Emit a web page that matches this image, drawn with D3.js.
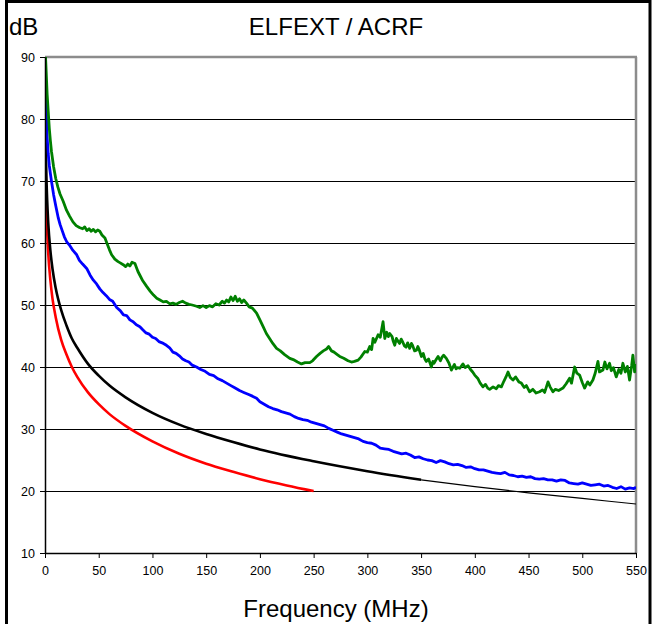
<!DOCTYPE html>
<html><head><meta charset="utf-8">
<script src="https://cdn.jsdelivr.net/npm/d3@7"></script>
<style>body{margin:0;background:#fff}svg{display:block}text{font-family:"Liberation Sans",Arial,sans-serif}</style>
</head><body><svg id="c" width="657" height="624"></svg>
<script>
const title = "ELFEXT / ACRF";
const yUnit = "dB";
const xTitle = "Frequency (MHz)";
const yTicks = [10,20,30,40,50,60,70,80,90];
const xTicks = [0,50,100,150,200,250,300,350,400,450,500,550];

// [MHz, dB]
const redSeries = [[0.5,74],[1,68],[2,62],[3,58.4],[5,54],[7,51],[10,48],[15,44.4],[20,42],[25,40],[30,38.4],[40,35.9],[50,34],[60,32.4],[75,30.5],[100,28],[125,26],[150,24.4],[175,23.1],[200,21.9],[225,20.9],[250,20]];

const blackSeries = [[0.4,80],[1,73],[2,67],[3,63.3],[5,58.8],[7,55.8],[10,52.7],[15,49.2],[20,46.7],[25,44.6],[30,43.1],[40,40.5],[50,38.6],[60,37.0],[75,35.1],[100,32.6],[125,30.7],[150,29.2],[175,27.9],[200,26.7],[250,24.8],[300,23.2],[350,21.8]];

const blackThinSeries = [[350,21.8],[400,20.7],[450,19.7],[500,18.8],[550,17.9]];

const blueSeries = [[0.3,86],[1,82],[2,77],[3,74.4],[4,72.5],[5,71.2],[6,70.0],[8,67.8],[10,66.0],[12.4,64.0],[14,63.0],[16,62.0],[18,61.0],[20.2,60.2],[23,59.6],[26,58.8],[29.5,58.1],[32,57.2],[35,56.6],[38.8,55.9],[42,54.8],[45,54.0],[48,53.4],[51,52.6],[54,52.0],[57,51.5],[60,50.9],[63,50.6],[66.7,49.6],[70,49.1],[73,48.4],[76,48.3],[79,47.6],[82,47.3],[85,46.8],[88.3,46.5],[91,46.0],[94,45.5],[97,45.3],[100,44.8],[103,44.6],[106,44.1],[109,43.9],[113,43.5],[116,43.1],[119,42.4],[122,42.2],[125,41.8],[128,41.3],[131,41.0],[134,40.8],[137,40.3],[141,40.0],[145,39.6],[149,39.3],[153,38.8],[157,38.6],[161,38.1],[165,37.8],[169,37.4],[173,37.0],[177,36.6],[181,36.2],[185,35.9],[189,35.6],[193,35.3],[196.9,34.95],[200,34.4],[204,34.0],[208,33.6],[212,33.3],[216,33.1],[220,32.8],[224,32.6],[228,32.4],[232,32.0],[236,31.7],[240,31.5],[244,31.4],[248,31.1],[252,30.9],[256,30.7],[260,30.5],[264,30.1],[268,29.8],[272,29.5],[276,29.2],[280,29.0],[284,28.8],[288,28.6],[292,28.4],[296,28.0],[300,27.8],[304,27.7],[308,27.4],[312,26.9],[316,26.8],[320,26.7],[324,26.4],[328,26.2],[332,26.0],[336,26.1],[340,25.8],[344,25.4],[348,25.5],[352,25.2],[356,25.0],[360,24.9],[364,24.6],[368,24.9],[372,24.7],[376,24.4],[380,24.2],[384,24.3],[388,24.1],[392,23.8],[396,23.9],[400,23.6],[404,23.4],[408,23.4],[412,23.2],[416,23.0],[420,22.9],[424,22.8],[428,23.0],[432,22.6],[436,22.5],[440,22.3],[444,22.4],[448,22.2],[452,22.3],[456,22.0],[460,21.9],[464,22.0],[468,21.8],[472,21.8],[476,21.6],[480,21.8],[484,21.7],[488,21.3],[492,21.2],[496,21.1],[500,21.3],[504,21.1],[508,20.9],[512,21.0],[516,21.1],[520,20.8],[524,20.9],[528,20.6],[532,20.4],[536,20.7],[540,20.3],[544,20.5],[548,20.4],[550,20.6]];

const greenSeries = [[0.5,90],[1,88],[2,84],[3,81.2],[4,78.5],[5,76.5],[6,74.8],[8,72.3],[10,70.4],[12,69.0],[14,67.9],[17,66.7],[20,65.3],[23,64.3],[26,63.4],[29,62.8],[32,62.5],[35,62.3],[37,62.6],[39,62.0],[41,62.3],[43,61.9],[45,62.2],[47,61.8],[49,62.1],[51,61.9],[53,61.3],[55.8,60.8],[58,59.8],[60,58.9],[62,58.1],[65,57.4],[68,57.0],[70,56.8],[72.8,56.5],[75,56.2],[77,56.6],[79,56.3],[81,56.9],[83.7,56.7],[85,56.1],[86.5,55.4],[88.3,54.8],[91,53.9],[94.6,53.0],[98,52.2],[101,51.6],[104,51.1],[107,50.8],[110,50.5],[113,50.6],[116,50.2],[119,50.3],[122,50.1],[125,50.4],[128,50.6],[131,50.3],[134,50.1],[137,50.0],[141,49.8],[144,49.6],[147,49.9],[150,49.6],[153,49.9],[156,49.7],[159,50.2],[162,50.0],[165,50.6],[167,50.3],[169,50.8],[171,50.5],[173,51.3],[175,50.7],[177,51.4],[179,50.6],[181,51.0],[183,50.4],[185,50.8],[187.5,50.3],[190,49.7],[193,49.5],[196.9,48.7],[200,47.6],[203,46.5],[206,45.4],[209,44.6],[212,43.8],[215.5,43.0],[219,42.6],[223,42.0],[227.8,41.4],[231,41.2],[235,40.8],[238.7,40.5],[242,40.7],[246.4,40.7],[249,41.0],[252.7,41.7],[256,42.2],[259,42.6],[262,42.9],[264,43.3],[266.6,42.6],[269,42.4],[272,42.0],[274.3,41.7],[278,41.4],[282,41.0],[285.2,40.8],[288,40.9],[291.4,41.1],[294,41.6],[297.6,42.5],[300,42.4],[302.2,43.3],[304,42.8],[305.3,44.6],[307,44.0],[310,45.2],[312,44.8],[314.6,47.3],[316.2,44.6],[318,45.6],[319.5,44.9],[320.8,45.4],[323,44.9],[324,44.2],[325.5,43.5],[327,44.6],[328,44.3],[330,43.8],[331.5,44.5],[333,44.0],[334.5,43.4],[336,43.2],[337.5,43.9],[339.4,43.0],[341,43.8],[342,43.5],[344,42.6],[345.7,42.7],[347,43.3],[348,42.9],[350.3,41.7],[352,42.2],[353.5,41.3],[354.9,40.9],[357,41.3],[359.6,40.0],[361,40.9],[362,40.6],[364,41.2],[365.8,41.7],[368,41.0],[369.5,41.6],[371,41.9],[373.5,41.4],[376,40.6],[378.2,39.5],[381,40.4],[382.5,39.7],[384,39.9],[386,39.8],[389,40.5],[391,39.9],[393.7,40.2],[396,39.6],[398,39.2],[399.9,38.7],[403,38.1],[405,37.4],[407.6,36.8],[410,37.2],[412,36.6],[413.8,36.4],[417,36.8],[420,36.5],[422,37.0],[424.7,36.8],[427,37.7],[429,38.4],[430.9,39.2],[433,38.3],[435.5,37.9],[438,38.4],[441,37.6],[443.3,37.4],[446,36.7],[448,37.0],[451,36.0],[454,36.4],[457,35.8],[460.3,36.0],[463,36.3],[465,35.9],[468.1,37.6],[470,36.8],[472.7,36.0],[475,36.4],[478,36.2],[482,36.6],[485,37.3],[488.2,38.2],[490,37.4],[492.9,40.0],[495,39.0],[497.5,38.7],[500,37.5],[502.2,36.6],[505,37.6],[507,37.1],[509.9,37.9],[512,39.0],[514.6,40.9],[516,39.2],[519.2,39.5],[521,40.8],[523,39.7],[525.4,40.6],[527,39.4],[529,39.9],[531.6,38.4],[534,39.6],[536,39.0],[537.8,40.6],[540,39.2],[542,40.1],[544,37.9],[546,40.3],[547.1,41.9],[548.7,39.2],[550,40.5]];

const svg = d3.select("#c");
const x = d3.scaleLinear().domain([0,550]).range([45,636]);
const y = d3.scaleLinear().domain([10,90]).range([553,57]);

svg.append("rect").attr("width",657).attr("height",624).attr("fill","#fff");

// gridlines
svg.append("g").selectAll("line").data(yTicks.filter(v=>v>10&&v<90)).join("line")
  .attr("x1",x(0)).attr("x2",x(550)).attr("y1",d=>Math.round(y(d))+0.5).attr("y2",d=>Math.round(y(d))+0.5)
  .attr("stroke","#000").attr("stroke-width",1);

// plot border top/right (gray)
svg.append("line").attr("x1",x(0)).attr("x2",x(550)+1).attr("y1",y(90)).attr("y2",y(90)).attr("stroke","#8c8c8c").attr("stroke-width",2.5);
svg.append("line").attr("x1",x(550)).attr("x2",x(550)).attr("y1",y(90)).attr("y2",y(10)).attr("stroke","#8c8c8c").attr("stroke-width",2.5);

svg.append("clipPath").attr("id","pc").append("rect")
  .attr("x",x(0)).attr("y",y(90)).attr("width",x(550)-x(0)).attr("height",y(10)-y(90));

const line = d3.line().x(d=>x(d[0])).y(d=>y(d[1]));
const smooth = d3.line().x(d=>x(d[0])).y(d=>y(d[1])).curve(d3.curveMonotoneX);
const g = svg.append("g").attr("clip-path","url(#pc)");
g.append("path").datum(redSeries).attr("d",smooth).attr("fill","none").attr("stroke","#ff0000").attr("stroke-width",2.6);
g.append("path").datum(blackSeries).attr("d",smooth).attr("fill","none").attr("stroke","#000").attr("stroke-width",2.6);
g.append("path").datum(blackThinSeries).attr("d",smooth).attr("fill","none").attr("stroke","#000").attr("stroke-width",1.2);
g.append("path").datum(blueSeries).attr("d",line).attr("fill","none").attr("stroke","#0000ff").attr("stroke-width",2.8).attr("stroke-linejoin","round");
g.append("path").datum(greenSeries).attr("d",line).attr("fill","none").attr("stroke","#008000").attr("stroke-width",2.8).attr("stroke-linejoin","round");

// axes
const ya = svg.append("g").attr("transform",`translate(${x(0)},0)`)
  .call(d3.axisLeft(y).tickValues(yTicks).tickSize(5).tickPadding(5).tickSizeOuter(0));
const xa = svg.append("g").attr("transform",`translate(0,${y(10)})`)
  .call(d3.axisBottom(x).tickValues(xTicks).tickSize(5).tickPadding(8).tickSizeOuter(0));
[ya,xa].forEach(a=>{
  a.selectAll("path").attr("stroke","#000").attr("stroke-width",1.5);
  a.selectAll("line").attr("stroke","#000").attr("stroke-width",1);
  a.selectAll("text").attr("font-size","12.5px").attr("fill","#000").attr("font-family","'Liberation Sans',Arial,sans-serif");
});

// titles
svg.append("text").attr("x",336).attr("y",35).attr("text-anchor","middle").attr("font-size","24px").text(title);
svg.append("text").attr("x",9).attr("y",35).attr("font-size","24px").text(yUnit);
svg.append("text").attr("x",336).attr("y",617).attr("text-anchor","middle").attr("font-size","24px").text(xTitle);

// outer frame
svg.append("rect").attr("x",6.5).attr("y",1.5).attr("width",643.5).attr("height",640).attr("fill","none").attr("stroke","#000").attr("stroke-width",3);
</script></body></html>
